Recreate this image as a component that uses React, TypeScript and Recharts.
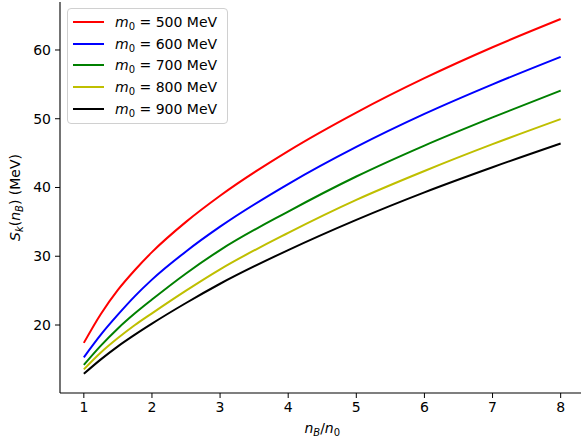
import React from 'react';
import { LineChart, Line, XAxis, YAxis, Label } from 'recharts';

const densities = [1, 1.25, 1.5, 1.75, 2, 2.5, 3, 4, 5, 6, 7, 8];
const m500 = [17.4, 21.6, 25.1, 28.0, 30.6, 35.0, 38.8, 45.3, 50.9, 55.9, 60.4, 64.5];
const m600 = [15.3, 18.6, 21.5, 24.2, 26.6, 30.7, 34.3, 40.5, 45.9, 50.7, 55.0, 59.0];
const m700 = [14.2, 17.0, 19.5, 21.7, 23.7, 27.5, 30.9, 36.5, 41.6, 46.1, 50.2, 54.1];
const m800 = [13.55, 16.0, 18.1, 20.0, 21.7, 25.0, 28.1, 33.4, 38.2, 42.4, 46.3, 49.95];
const m900 = [12.9, 15.0, 16.9, 18.6, 20.2, 23.2, 26.0, 30.9, 35.3, 39.3, 42.95, 46.4];
const xTicks = [1, 2, 3, 4, 5, 6, 7, 8];
const yTicks = [20, 30, 40, 50, 60];

const series = [
  { key: 'm500', mass: '500', color: '#ff0000', values: m500 },
  { key: 'm600', mass: '600', color: '#0000ff', values: m600 },
  { key: 'm700', mass: '700', color: '#008000', values: m700 },
  { key: 'm800', mass: '800', color: '#bfbf00', values: m800 },
  { key: 'm900', mass: '900', color: '#000000', values: m900 },
];

const data = densities.map((x, i) => {
  const row: Record<string, number> = { x };
  series.forEach((s) => { row[s.key] = s.values[i]; });
  return row;
});

const font = '"DejaVu Sans", sans-serif';

const LegendBox = () => (
  <div
    style={{
      position: 'absolute',
      left: 67,
      top: 8,
      border: '1px solid #d0d0d0',
      borderRadius: 4,
      background: 'rgba(255,255,255,0.8)',
      padding: '2px 10px 3px 5px',
      fontFamily: font,
      fontSize: 14,
      lineHeight: '16px',
      color: '#000',
    }}
  >
    {series.map((s) => (
      <div key={s.key} style={{ display: 'flex', alignItems: 'center', height: 21.8 }}>
        <span style={{ display: 'inline-block', width: 31, height: 2, background: s.color, marginRight: 11 }} />
        <span>
          <i>m</i><sub style={{ fontSize: 10, verticalAlign: -3, lineHeight: 0 }}>0</sub> = {s.mass} MeV
        </span>
      </div>
    ))}
  </div>
);

const XLabel = (props: any) => {
  const vb = props.viewBox;
  return (
    <text x={vb.x + vb.width / 2} y={433} textAnchor="middle" fontFamily={font} fontSize={14} fill="#000">
      <tspan fontStyle="italic">n</tspan>
      <tspan fontStyle="italic" fontSize={10} dy={3}>B</tspan>
      <tspan dy={-3}>/</tspan>
      <tspan fontStyle="italic">n</tspan>
      <tspan fontSize={10} dy={3}>0</tspan>
    </text>
  );
};

const YLabel = (props: any) => {
  const vb = props.viewBox;
  const cy = vb.y + vb.height / 2;
  return (
    <text x={20} y={cy} transform={`rotate(-90, 20, ${cy})`} textAnchor="middle" fontFamily={font} fontSize={14} fill="#000">
      <tspan fontStyle="italic">S</tspan>
      <tspan fontStyle="italic" fontSize={10} dy={3}>k</tspan>
      <tspan dy={-3}>(</tspan>
      <tspan fontStyle="italic">n</tspan>
      <tspan fontStyle="italic" fontSize={10} dy={3}>B</tspan>
      <tspan dy={-3}>) (MeV)</tspan>
    </text>
  );
};

const tickStyle = { fontFamily: font, fontSize: 14, fill: '#000' };

export default function App() {
  return (
    <div style={{ position: 'absolute', left: 0, top: 0, width: 581, height: 441, overflow: 'hidden', background: '#fff' }}>
      <LineChart width={600} height={441} data={data} margin={{ top: 2, right: 15.5, bottom: 0, left: 0 }}>
        <XAxis
          dataKey="x"
          type="number"
          domain={[0.65, 8.35]}
          ticks={xTicks}
          allowDataOverflow
          height={48}
          tick={tickStyle}
          tickSize={5}
          tickMargin={4}
          stroke="#000"
          axisLine={{ stroke: '#000', strokeWidth: 1.1 }}
        >
          <Label content={<XLabel />} />
        </XAxis>
        <XAxis
          xAxisId="top"
          orientation="top"
          dataKey="x"
          type="number"
          domain={[0.65, 8.35]}
          height={0}
          tick={false}
          tickLine={false}
          axisLine={{ stroke: '#000', strokeWidth: 1.1 }}
        />
        <YAxis
          type="number"
          domain={[10.11, 66.98]}
          ticks={yTicks}
          allowDataOverflow
          width={60}
          tick={tickStyle}
          tickSize={5}
          tickMargin={4}
          stroke="#000"
          axisLine={{ stroke: '#000', strokeWidth: 1.1 }}
        >
          <Label content={<YLabel />} />
        </YAxis>
        {series.map((s) => (
          <Line
            key={s.key}
            type="monotone"
            dataKey={s.key}
            stroke={s.color}
            strokeWidth={2}
            dot={false}
            isAnimationActive={false}
          />
        ))}
      </LineChart>
      <LegendBox />
    </div>
  );
}
